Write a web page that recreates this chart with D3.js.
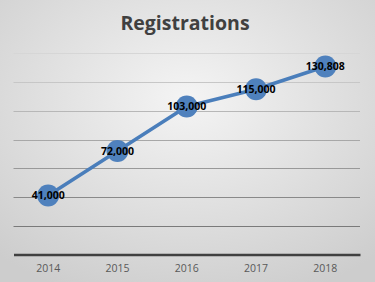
<!DOCTYPE html>
<html><head><meta charset="utf-8">
<script src="https://cdn.jsdelivr.net/npm/d3@7"></script>
<style>html,body{margin:0;padding:0;overflow:hidden;}svg{display:block;}</style>
</head><body>
<script>
const categories = ["2014","2015","2016","2017","2018"];
const registrations = [41000, 72000, 103000, 115000, 130808];
const yTicks = [0,20000,40000,60000,80000,100000,120000,140000];
const title = "Registrations";

const W = 375, H = 282;
const svg = d3.select("body").append("svg").attr("width", W).attr("height", H);
const defs = svg.append("defs");
const rg = defs.append("radialGradient").attr("id","bg")
  .attr("cx","50%").attr("cy","35%").attr("r","75%");
rg.append("stop").attr("offset","0%").attr("stop-color","#f4f4f4");
rg.append("stop").attr("offset","100%").attr("stop-color","#cdcdcd");
svg.append("rect").attr("width",W).attr("height",H).attr("fill","url(#bg)");

const x = d3.scaleBand().domain(categories).range([13.5, 360]);
const y = d3.scaleLinear().domain([0, 140000]).range([254.5, 53.3]);

const lg = defs.append("linearGradient").attr("id","grid").attr("gradientUnits","userSpaceOnUse")
  .attr("x1",0).attr("y1",y(140000)).attr("x2",0).attr("y2",y(20000));
lg.append("stop").attr("offset","0%").attr("stop-color","#d6d6d6");
lg.append("stop").attr("offset","100%").attr("stop-color","#7a7a7a");

svg.append("text").attr("x", 185).attr("y", 30).attr("text-anchor","middle")
  .attr("font-family","'Open Sans', sans-serif").attr("font-weight","bold")
  .attr("font-size", 19.5).attr("fill","#404040").text(title);

svg.append("g").selectAll("line").data(yTicks.filter(d=>d>0)).join("line")
  .attr("x1",13.5).attr("x2",360).attr("y1",d=>Math.round(y(d))+0.5).attr("y2",d=>Math.round(y(d))+0.5)
  .attr("stroke","url(#grid)").attr("stroke-width",1);

const xAxis = svg.append("g").attr("transform",`translate(0,${y(0)})`)
  .call(d3.axisBottom(x).tickSize(0).tickPadding(10));
xAxis.select(".domain").attr("stroke","#404040").attr("stroke-width",2.5);
xAxis.selectAll("text").attr("font-family","'Open Sans', sans-serif").attr("font-size",10.5).attr("fill","#595959");

const pts = categories.map((c,i)=>[x(c)+x.bandwidth()/2, y(registrations[i])]);
svg.append("path").attr("d", d3.line()(pts)).attr("fill","none")
  .attr("stroke","#4a7ebb").attr("stroke-width",3.5).attr("stroke-linejoin","round");
svg.append("g").selectAll("circle").data(pts).join("circle")
  .attr("cx",d=>d[0]).attr("cy",d=>d[1]).attr("r",11).attr("fill","#4f81bd");
svg.append("g").selectAll("text").data(pts).join("text")
  .attr("x",d=>d[0]).attr("y",d=>d[1]).attr("dy","0.35em").attr("text-anchor","middle")
  .attr("font-family","'Open Sans', sans-serif").attr("font-weight","bold").attr("font-size",10.5)
  .attr("fill","#000").text((d,i)=>d3.format(",")(registrations[i]));
</script>
</body></html>
